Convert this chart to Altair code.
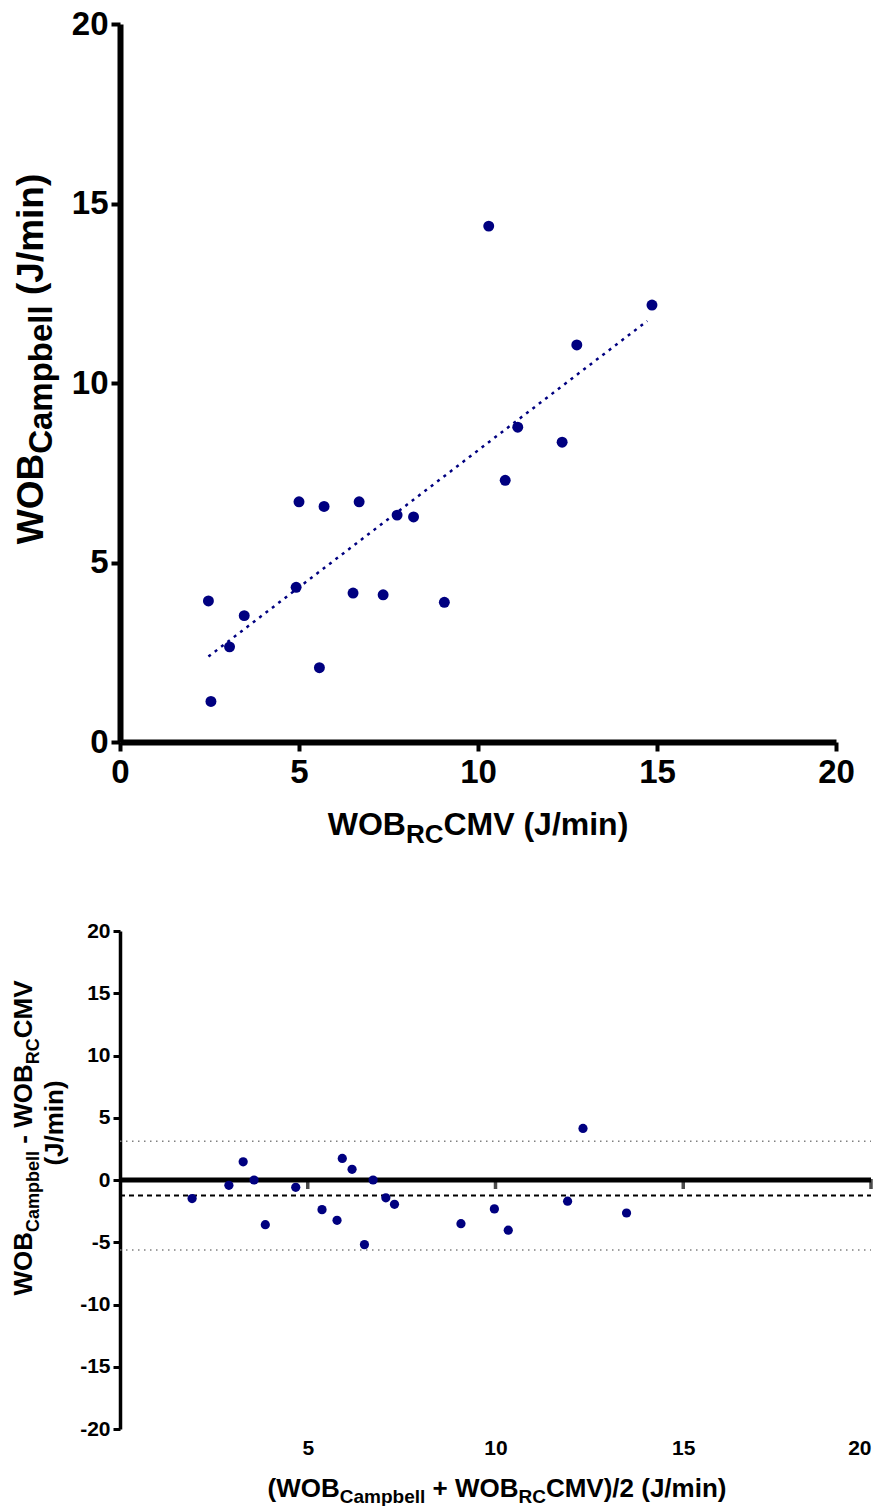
import altair as alt
import pandas as pd

# ---------------- data ----------------
wob_rc = [2.47, 2.54, 3.06, 3.47, 4.92, 5.00, 5.70, 5.57, 6.51, 6.68,
          7.35, 7.74, 8.20, 9.06, 10.30, 10.76, 11.11, 12.35, 12.76, 14.86]
wob_campbell = [3.93, 1.13, 2.65, 3.52, 4.31, 6.69, 6.56, 2.07, 4.15, 6.69,
                4.10, 6.32, 6.27, 3.89, 14.37, 7.29, 8.77, 8.35, 11.06, 12.17]
fit_x = [2.47, 14.73]
fit_y = [2.38, 11.73]

ba_mean = [1.92, 2.90, 3.28, 3.57, 3.87, 4.68, 5.38, 5.78, 5.92, 6.18,
           6.51, 6.74, 7.08, 7.31, 9.08, 9.97, 10.34, 11.92, 12.33, 13.49]
ba_diff = [-1.49, -0.43, 1.46, 0.00, -3.59, -0.59, -2.38, -3.24, 1.73, 0.86,
           -5.19, 0.00, -1.43, -1.95, -3.51, -2.32, -4.03, -1.70, 4.14, -2.65]
bias = -1.25
loa_upper = 3.12
loa_lower = -5.62

top_ticks = [0, 5, 10, 15, 20]
bottom_y_ticks = [-20, -15, -10, -5, 0, 5, 10, 15, 20]
bottom_x_ticks = [5, 10, 15, 20]

# ---------------- styling ----------------
NAVY = "#000080"
FONT = "Liberation Sans"
one = pd.DataFrame({"k": [0]})

# Arial/Liberation Sans Bold advance widths (per 1000 em)
WID = {" ": 278, "(": 333, ")": 333, "+": 584, "-": 333, "/": 278,
       "2": 556, "B": 722, "C": 722, "J": 556, "M": 833, "O": 778, "R": 722,
       "V": 667, "W": 944, "a": 556, "b": 611, "e": 556, "i": 278, "l": 278,
       "m": 889, "n": 611, "p": 611}


def tw(s, fs):
    return sum(WID.get(c, 556) for c in s) * fs / 1000.0


def title_layers(pieces, x, y, angle=0):
    """Pieces of a title (main text and subscripts) laid out along a line."""
    total = sum(tw(t, fs) for t, fs, _ in pieces)
    off = -total / 2.0
    layers = []
    for t, fs, dy in pieces:
        lead = len(t) - len(t.lstrip(" "))
        off += tw(" " * lead, fs)
        body = t.lstrip(" ")
        kw = dict(text=body, fontSize=fs, fontWeight="bold", font=FONT,
                  align="left", baseline="alphabetic", dx=off, dy=dy,
                  color="black")
        if angle:
            kw["angle"] = angle
        layers.append(alt.Chart(one).mark_text(**kw).encode(
            x=alt.value(x), y=alt.value(y)))
        off += tw(body, fs)
    return layers


def anchor(x, y):
    return alt.Chart(one).mark_text(text=".", opacity=0, align="left",
                                    baseline="top", fontSize=4).encode(
        x=alt.value(x), y=alt.value(y))


# ---------------- top panel ----------------
TW, TH = 716, 718
top_df = pd.DataFrame({"x": wob_rc, "y": wob_campbell})
fit_df = pd.DataFrame({"x": fit_x, "y": fit_y})

scale20 = alt.Scale(domain=[0, 20], nice=False, zero=False)
top_axis_common = dict(values=top_ticks, title=None, grid=False,
                       domainColor="black", domainWidth=6,
                       tickColor="black", tickWidth=4, tickSize=9,
                       labelFont=FONT, labelFontSize=33, labelFontWeight="bold",
                       labelColor="black", labelFlush=False)

top_points = alt.Chart(top_df).mark_circle(size=120, color=NAVY, opacity=1).encode(
    x=alt.X("x:Q", scale=scale20, axis=alt.Axis(labelPadding=5, **top_axis_common)),
    y=alt.Y("y:Q", scale=scale20, axis=alt.Axis(labelPadding=3, **top_axis_common)),
)
top_fit = alt.Chart(fit_df).mark_line(color=NAVY, strokeDash=[3, 5],
                                      strokeWidth=2.5).encode(x="x:Q", y="y:Q")

top_titles = (
    title_layers([("WOB", 32, 0), ("RC", 26, 8), ("CMV (J/min)", 32, 0)],
                 TW / 2, 811)
    + title_layers([("WOB", 37, 0), ("Campbell", 33, 9), (" (J/min)", 37, 0)],
                   -77, 335, angle=270)
)

top = alt.layer(top_fit, top_points, *top_titles, anchor(-112, -14)).properties(
    width=TW, height=TH)

# ---------------- bottom panel ----------------
BW, BH = 751, 498
ba_df = pd.DataFrame({"m": ba_mean, "d": ba_diff})
tick_df = pd.DataFrame({"t": bottom_x_ticks})

bx = alt.Scale(domain=[0, 20], nice=False, zero=False)
by = alt.Scale(domain=[-20, 20], nice=False, zero=False)

ba_points = alt.Chart(ba_df).mark_circle(size=85, color=NAVY, opacity=1).encode(
    x=alt.X("m:Q", scale=bx, axis=alt.Axis(
        values=bottom_x_ticks, title=None, grid=False, domain=False, ticks=False,
        labelPadding=8, labelFont=FONT, labelFontSize=21, labelFontWeight="bold",
        labelColor="black")),
    y=alt.Y("d:Q", scale=by, axis=alt.Axis(
        values=bottom_y_ticks, title=None, grid=False, domainColor="black",
        domainWidth=3.5, tickColor="black", tickWidth=3, tickSize=7,
        labelPadding=3, labelFont=FONT, labelFontSize=21, labelFontWeight="bold",
        labelColor="black", labelFlush=False,
        labelExpr="datum.value + ''")),
)

zero_line = alt.Chart(one).mark_rule(color="black", strokeWidth=5).encode(
    x=alt.datum(0), x2=alt.datum(20), y=alt.datum(0))
bias_line = alt.Chart(one).mark_rule(color="black", strokeWidth=2,
                                     strokeDash=[5, 4]).encode(
    x=alt.datum(0), x2=alt.datum(20), y=alt.datum(bias))
upper_line = alt.Chart(one).mark_rule(color="#808080", strokeWidth=1.5,
                                      strokeDash=[1.5, 4.5]).encode(
    x=alt.datum(0), x2=alt.datum(20), y=alt.datum(loa_upper))
lower_line = alt.Chart(one).mark_rule(color="#808080", strokeWidth=1.5,
                                      strokeDash=[1.5, 4.5]).encode(
    x=alt.datum(0), x2=alt.datum(20), y=alt.datum(loa_lower))
zero_ticks = alt.Chart(tick_df).mark_tick(orient="vertical", size=10, thickness=3.5,
                                          color="black", yOffset=4).encode(
    x="t:Q", y=alt.datum(0))

bottom_titles = (
    title_layers([("(WOB", 26, 0), ("Campbell", 19, 6), (" + WOB", 26, 0),
                  ("RC", 19, 6), ("CMV)/2 (J/min)", 26, 0)], 377, 566)
    + title_layers([("WOB", 26, 0), ("Campbell", 18, 7), (" - WOB", 26, 0),
                    ("RC", 18, 7), ("CMV", 26, 0)], -88, 207, angle=270)
    + title_layers([("(J/min)", 26, 0)], -57, 192, angle=270)
)

bottom = alt.layer(upper_line, lower_line, bias_line, zero_line, zero_ticks,
                   ba_points, *bottom_titles, anchor(-112, -12)).properties(
    width=BW, height=BH)

chart = alt.vconcat(top, bottom, spacing=71).properties(padding=0).configure_view(
    stroke=None)

chart.save("out.html", embed_options={"renderer": "svg", "actions": False})
